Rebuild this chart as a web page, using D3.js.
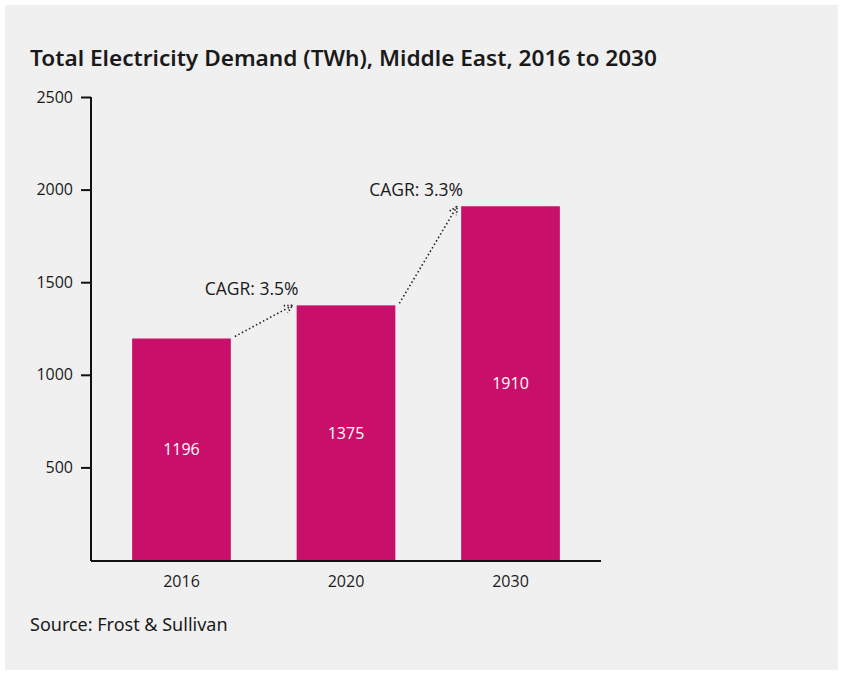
<!DOCTYPE html>
<meta charset="utf-8">
<style>
body { margin: 0; background: #fff; }
text { font-family: "Noto Sans", sans-serif; fill: #1a1a1a; }
.title { font-size: 21px; font-weight: 600; }
.source { font-size: 18px; }
.axis path, .axis line { stroke: #111; stroke-width: 2px; }
.axis text { font-family: "Open Sans", sans-serif; font-size: 16px; fill: #1a1a1a; }
.bar { fill: #c8106a; }
.bar-label { font-family: "Open Sans", sans-serif; fill: #fff; font-size: 16px; text-anchor: middle; }
.cagr { font-family: "Open Sans", sans-serif; font-size: 17.5px; }
.arrow { fill: none; stroke: #222; stroke-width: 1.6px; stroke-dasharray: 1.5 2.5; }
</style>
<svg width="843" height="675"></svg>
<script src="https://d3js.org/d3.v7.min.js"></script>
<script>

var years = ["2016", "2020", "2030"];
var demand = [1196, 1375, 1910];
var cagrLabels = ["CAGR: 3.5%", "CAGR: 3.3%"];
var yTicks = [500, 1000, 1500, 2000, 2500];

var svg = d3.select("svg");

svg.append("rect")
    .attr("x", 5).attr("y", 5)
    .attr("width", 833).attr("height", 665)
    .attr("fill", "#f0f0f0");

svg.append("text")
    .attr("class", "title")
    .attr("x", 30).attr("y", 66)
    .attr("textLength", 627)
    .attr("lengthAdjust", "spacingAndGlyphs")
    .text("Total Electricity Demand (TWh), Middle East, 2016 to 2030");

var x = d3.scaleBand()
    .domain(years)
    .range([91, 601])
    .paddingInner(0.4)
    .paddingOuter(0.25);

var y = d3.scaleLinear()
    .domain([0, 2500])
    .range([560, 97]);

// y axis
var yAxis = svg.append("g")
    .attr("class", "axis")
    .attr("transform", "translate(91,0)")
    .call(d3.axisLeft(y).tickValues(yTicks).tickSize(10).tickPadding(8).tickFormat(d3.format("d")));
yAxis.select(".domain").attr("d", "M0," + y(2500) + "V" + (y(0) + 1));

// bars
svg.selectAll(".bar")
    .data(demand)
  .enter().append("rect")
    .attr("class", "bar")
    .attr("x", function(d, i) { return x(years[i]); })
    .attr("y", function(d) { return y(d); })
    .attr("width", x.bandwidth())
    .attr("height", function(d) { return y(0) - y(d); });

svg.selectAll(".bar-label")
    .data(demand)
  .enter().append("text")
    .attr("class", "bar-label")
    .attr("x", function(d, i) { return x(years[i]) + x.bandwidth() / 2; })
    .attr("y", function(d) { return (y(d) + y(0)) / 2 + 6; })
    .text(function(d) { return d; });

// x axis
var xAxis = svg.append("g")
    .attr("class", "axis")
    .attr("transform", "translate(0," + (y(0) + 1) + ")")
    .call(d3.axisBottom(x).tickSize(0).tickPadding(15));
xAxis.select(".domain").attr("d", "M91,0H601");

// CAGR arrows
var defs = svg.append("defs");
defs.append("marker")
    .attr("id", "head")
    .attr("viewBox", "0 0 10 10")
    .attr("refX", 9).attr("refY", 5)
    .attr("markerWidth", 10).attr("markerHeight", 10)
    .attr("markerUnits", "userSpaceOnUse")
    .attr("orient", "auto")
  .append("path")
    .attr("d", "M1,1L9,5L1,9")
    .attr("fill", "none")
    .attr("stroke", "#222")
    .attr("stroke-width", 1.6)
    .attr("stroke-dasharray", "1.5 2");

cagrLabels.forEach(function(label, i) {
  var x1 = x(years[i]) + x.bandwidth() + 4,
      y1 = y(demand[i]) - 2,
      x2 = x(years[i + 1]) - 4,
      y2 = y(demand[i + 1]);
  svg.append("path")
      .attr("class", "arrow")
      .attr("d", "M" + x1 + "," + y1 + "L" + x2 + "," + y2)
      .attr("marker-end", "url(#head)");
  svg.append("text")
      .attr("class", "cagr")
      .attr("x", x2 - 88)
      .attr("y", y2 - 10)
      .text(label);
});

svg.append("text")
    .attr("class", "source")
    .attr("x", 30).attr("y", 631)
    .text("Source: Frost & Sullivan");

</script>
